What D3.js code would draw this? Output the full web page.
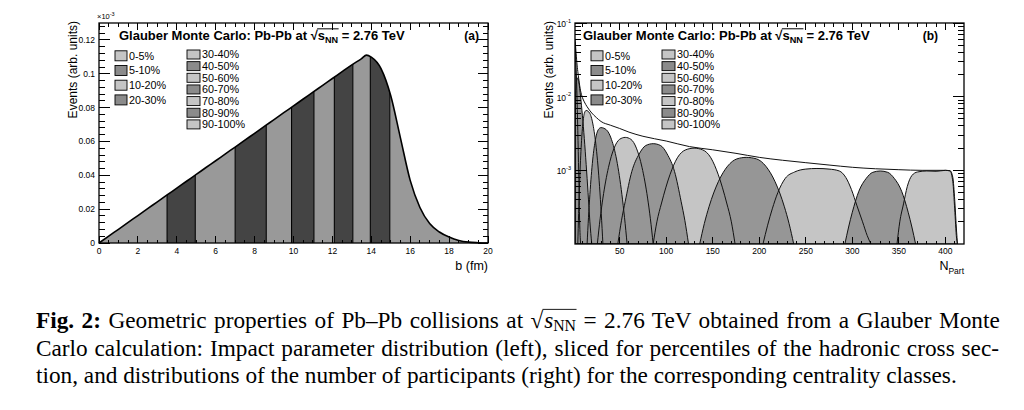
<!DOCTYPE html>
<html><head><meta charset="utf-8">
<script src="https://cdn.jsdelivr.net/npm/d3@7/dist/d3.min.js"></script>
<style>html,body{margin:0;padding:0;background:#fff;} svg{display:block;}</style>
</head><body>
<svg id="fig" width="1024" height="410"></svg>
<script>
// ---------------- DATA ----------------
const centralityClasses = ["0-5%","5-10%","10-20%","20-30%","30-40%","40-50%","50-60%","60-70%","70-80%","80-90%","90-100%"];
// impact-parameter slice edges (fm)
const bClassEdges = [0, 3.5, 4.95, 7.0, 8.6, 9.9, 11.05, 12.1, 13.05, 13.95, 14.95, 20];
// impact-parameter distribution
const bValues = [0,0.5,1,1.5,2,2.5,3,3.5,4,4.5,5,5.5,6,6.5,7,7.5,8,8.5,9,9.5,10,10.5,11,11.5,12,12.5,13,13.5,13.75,14,14.5,15,15.5,16,16.5,17,17.5,18,18.5,19,19.5,20];
const bEvents = [0,0.0041,0.0081,0.0122,0.0162,0.0203,0.0243,0.0284,0.0324,0.0365,0.0405,0.0446,0.0486,0.0527,0.0567,0.0608,0.0648,0.0689,0.0729,0.077,0.081,0.0851,0.0891,0.0932,0.0972,0.1013,0.1053,0.109,0.111,0.1098,0.103,0.087,0.062,0.037,0.021,0.0115,0.0065,0.0035,0.0015,0.0005,0.00015,0];
const bTicks = [0,2,4,6,8,10,12,14,16,18,20];
const eventsTicks = [0,0.02,0.04,0.06,0.08,0.1,0.12];
const eventsTickLabels = ["0","0.02","0.04","0.06","0.08","0.1","0.12"];
const npartTicks = [50,100,150,200,250,300,350,400];
const logTicks = [1e-1,1e-2,1e-3];
const logTickExponents = ["-1","-2","-3"];
// N_part distributions per centrality class: [Npart, events]
const npart_0_5   = [[348,1e-4],[351,0.0002],[355,0.00035],[359,0.0006],[364,0.00085],[370,0.00095],[380,0.00098],[390,0.00097],[400,0.001],[405,0.00098],[408,0.0007],[410,0.0003],[412,0.00012],[413,1e-4]];
const npart_5_10  = [[292,1e-4],[296,0.00017],[300,0.00027],[307,0.00052],[315,0.00078],[322,0.00094],[330,0.00098],[338,0.00094],[345,0.00078],[353,0.00052],[360,0.00027],[364,0.00017],[368,1e-4]];
const npart_10_20 = [[204,1e-4],[209,0.00018],[214,0.0003],[220,0.0005],[228,0.00078],[238,0.00095],[250,0.00104],[262,0.00106],[275,0.00104],[286,0.00098],[293,0.0008],[299,0.00055],[305,0.00033],[311,0.0002],[316,0.00013],[320,1e-4]];
const npart_20_30 = [[136,1e-4],[141,0.00019],[146,0.00032],[156,0.0007],[166,0.00114],[176,0.00143],[186,0.0015],[197,0.00143],[207,0.00114],[217,0.0007],[227,0.00032],[232,0.00019],[237,1e-4]];
const npart_30_40 = [[86,1e-4],[90,0.0002],[95,0.00036],[104,0.00087],[112,0.00148],[121,0.0019],[130,0.002],[139,0.0019],[148,0.00148],[156,0.00087],[165,0.00036],[170,0.0002],[174,1e-4]];
const npart_40_50 = [[48,1e-4],[52,0.00021],[56,0.00038],[63,0.00096],[71,0.00167],[78,0.00217],[86,0.0023],[94,0.00217],[101,0.00167],[109,0.00096],[116,0.00038],[120,0.00021],[124,1e-4]];
const npart_50_60 = [[26,1e-4],[29,0.00022],[32,0.00042],[38,0.0011],[44,0.002],[50,0.00264],[56,0.0028],[62,0.00264],[68,0.002],[74,0.0011],[80,0.00042],[83,0.00022],[86,1e-4]];
const npart_60_70 = [[15,1e-4],[16.5,0.00023],[18,0.00047],[21,0.00138],[24,0.00263],[27,0.00356],[30,0.0038],[35.6,0.00356],[41.2,0.00263],[46.8,0.00138],[52.4,0.00047],[55.2,0.00023],[58,1e-4]];
const npart_70_80 = [[5,1e-4],[5.9,0.00026],[6.8,0.0006],[8.6,0.00203],[10.4,0.00426],[12.2,0.00603],[14,0.0065],[17.6,0.00603],[21.2,0.00426],[24.8,0.00203],[28.4,0.0006],[30.2,0.00026],[32,1e-4]];
const npart_80_90 = [[2,0.004],[3,0.012],[4,0.017],[5,0.018],[6,0.016],[7,0.013],[8,0.01],[10,0.0055],[12,0.0027],[14,0.0012],[16,0.0005],[18,0.0002],[20,1e-4]];
const npart_90_100 = [[2,0.055],[3,0.03],[4,0.012],[5,0.0035],[6,0.0009],[7,0.0002],[8,1e-4]];
const npartByClass = [npart_0_5,npart_5_10,npart_10_20,npart_20_30,npart_30_40,npart_40_50,npart_50_60,npart_60_70,npart_70_80,npart_80_90,npart_90_100];
const npartTotal = [[2,0.06],[3,0.042],[4,0.029],[5,0.022],[6,0.0175],[8,0.012],[10,0.0097],[12,0.0085],[15,0.0073],[20,0.006],[25,0.0052],[30,0.0046],[40,0.0041],[50,0.0037],[60,0.0033],[75,0.0029],[100,0.0025],[125,0.0021],[150,0.0019],[175,0.0017],[200,0.0015],[225,0.00137],[250,0.00127],[275,0.00118],[300,0.0011],[325,0.00105],[350,0.00102],[375,0.001],[400,0.001],[405,0.00099],[408,0.0008],[410,0.0004],[412,0.00015],[413,0.0001]];
const captionLine2 = "Carlo calculation: Impact parameter distribution (left), sliced for percentiles of the hadronic cross sec-";
const captionLine3 = "tion, and distributions of the number of participants (right) for the corresponding centrality classes.";

// ---------------- STYLE ----------------
const SANS = "'Liberation Sans', Arial, Helvetica, sans-serif";
const SERIF = "'Liberation Serif', 'Times New Roman', Times, serif";
const LIGHT = "#c5c5c5", MEDIUM = "#969696";
const B_LIGHT = "#999999", B_DARK = "#444444";
const svg = d3.select("#fig");
const defs = svg.append("defs");

function drawTicks(g, box, x, y, xs, ys) {
  const t = g.append("g").attr("stroke","#000").attr("stroke-width",1).attr("shape-rendering","crispEdges");
  xs.forEach(([vals,len])=>{
    t.selectAll(null).data(vals).join("line").attr("x1",d=>x(d)).attr("x2",d=>x(d)).attr("y1",box.y1).attr("y2",box.y1-len);
    t.selectAll(null).data(vals).join("line").attr("x1",d=>x(d)).attr("x2",d=>x(d)).attr("y1",box.y0).attr("y2",box.y0+len);
  });
  ys.forEach(([vals,len,lenR])=>{
    t.selectAll(null).data(vals).join("line").attr("y1",d=>y(d)).attr("y2",d=>y(d)).attr("x1",box.x0).attr("x2",box.x0+len);
    t.selectAll(null).data(vals).join("line").attr("y1",d=>y(d)).attr("y2",d=>y(d)).attr("x1",box.x1).attr("x2",box.x1-lenR);
  });
  g.append("rect").attr("x",box.x0).attr("y",box.y0).attr("width",box.x1-box.x0).attr("height",box.y1-box.y0)
    .attr("fill","none").attr("stroke","#000").attr("stroke-width",1.3);
}

function plotTitle(g, x0, base, targetW, tag, tagX) {
  const t = g.append("text").attr("x",x0).attr("y",base).attr("font-family",SANS).attr("font-weight","bold").attr("font-size",12).attr("fill","#000");
  const pre = "Glauber Monte Carlo: Pb-Pb at ";
  t.append("tspan").text(pre + "\u221A");
  t.append("tspan").text("s");
  const sub = t.append("tspan").attr("font-size",8.4).attr("dy",2.6).text("NN");
  const post = t.append("tspan").attr("dy",-2.6).text(" = 2.76 TeV");
  const w = t.node().getComputedTextLength();
  const fs = 12*targetW/w;
  t.attr("font-size",fs);
  sub.attr("font-size",fs*0.7).attr("dy",fs*0.22);
  post.attr("dy",-fs*0.22);
  const n = pre.length;
  const e0 = t.node().getExtentOfChar(n), e1 = t.node().getExtentOfChar(n+3);
  g.append("line").attr("x1",e0.x+e0.width-0.6).attr("x2",e1.x+e1.width+0.5)
    .attr("y1",base-fs*0.86).attr("y2",base-fs*0.86).attr("stroke","#000").attr("stroke-width",1);
  g.append("text").attr("x",tagX).attr("y",base).attr("text-anchor","end").attr("font-family",SANS)
    .attr("font-weight","bold").attr("font-size",12).text(tag);
}

function legend(g, c1x, c2x, fillFn) {
  const fs = 10.8;
  centralityClasses.forEach((c,i)=>{
    let bx, cy, bw, bh;
    if (i < 4) { bx = c1x; cy = 55.8 + i*14.7; bw = 12; bh = 10; }
    else { bx = c2x; cy = 54.5 + (i-4)*11.65; bw = 13; bh = 9; }
    g.append("rect").attr("x",bx).attr("y",cy-bh/2).attr("width",bw).attr("height",bh)
      .attr("fill",fillFn(i)).attr("stroke","#000").attr("stroke-width",0.9);
    g.append("text").attr("x",bx+bw+2).attr("y",cy+fs*0.36).attr("font-family",SANS).attr("font-size",fs).text(c);
  });
}

function yTitle(g, x, yTop) {
  g.append("text").attr("transform",`translate(${x},${yTop}) rotate(-90)`).attr("text-anchor","end")
    .attr("font-family",SANS).attr("font-size",12).text("Events (arb. units)");
}

// ---------------- PANEL (a) ----------------
const pa = {x0:99, x1:488, y0:23, y1:243};
const xb = d3.scaleLinear().domain([0,20]).range([pa.x0,pa.x1]);
const yb = d3.scaleLinear().domain([0,0.13]).range([pa.y1,pa.y0]);
const ga = svg.append("g");
const bData = bValues.map((b,i)=>[b,bEvents[i]]);
const areaB = d3.area().x(d=>xb(d[0])).y0(yb(0)).y1(d=>yb(d[1])).curve(d3.curveMonotoneX);
defs.append("clipPath").attr("id","clipB").append("path").attr("d",areaB(bData));
const slices = ga.append("g").attr("clip-path","url(#clipB)");
slices.selectAll("rect").data(d3.range(centralityClasses.length)).join("rect")
  .attr("x",i=>xb(bClassEdges[i])).attr("width",i=>xb(bClassEdges[i+1])-xb(bClassEdges[i]))
  .attr("y",pa.y0).attr("height",pa.y1-pa.y0).attr("fill",i=>i%2===0?B_LIGHT:B_DARK);
slices.selectAll("line").data(bClassEdges.slice(1,-1)).join("line")
  .attr("x1",d=>xb(d)).attr("x2",d=>xb(d)).attr("y1",pa.y0).attr("y2",pa.y1)
  .attr("stroke","#000").attr("stroke-width",1.1);
ga.append("path").attr("d",d3.line().x(d=>xb(d[0])).y(d=>yb(d[1])).curve(d3.curveMonotoneX)(bData))
  .attr("fill","none").attr("stroke","#000").attr("stroke-width",1.6);
drawTicks(ga, pa, xb, yb,
  [[d3.range(0,20.001,0.5),3.5],[bTicks,7]],
  [[d3.range(0,0.1301,0.004),5.5,5],[eventsTicks,11,10]]);
ga.append("g").selectAll("text").data(eventsTicks).join("text")
  .attr("x",95).attr("y",d=>yb(d)+3).attr("text-anchor","end").attr("font-family",SANS).attr("font-size",8.5)
  .text((d,i)=>eventsTickLabels[i]);
ga.append("g").selectAll("text").data(bTicks).join("text")
  .attr("x",d=>xb(d)).attr("y",253.5).attr("text-anchor","middle").attr("font-family",SANS).attr("font-size",8.5)
  .text(d=>d);
const mult = ga.append("text").attr("x",97).attr("y",19).attr("font-family",SANS).attr("font-size",7.5);
mult.append("tspan").text("\u00D710");
mult.append("tspan").attr("font-size",5.5).attr("dy",-3).text("-3");
ga.append("text").attr("x",488).attr("y",270).attr("text-anchor","end").attr("font-family",SANS).attr("font-size",12.5).text("b (fm)");
yTitle(ga, 76.5, 21);
plotTitle(ga, 119, 40, 286, "(a)", 479);
legend(ga, 115, 187, i=>i%2===0?LIGHT:"#8b8b8b");

// ---------------- PANEL (b) ----------------
const pb = {x0:575, x1:964, y0:23, y1:244};
const xn = d3.scaleLinear().domain([2,420]).range([pb.x0,pb.x1]);
const yn = d3.scaleLog().domain([1e-4,1e-1]).range([pb.y1,pb.y0]);
const gb = svg.append("g");
defs.append("clipPath").attr("id","clipN").append("rect").attr("x",pb.x0).attr("y",pb.y0).attr("width",pb.x1-pb.x0).attr("height",pb.y1-pb.y0);
const plotN = gb.append("g").attr("clip-path","url(#clipN)");
const areaN = d3.area().x(d=>xn(d[0])).y0(pb.y1).y1(d=>yn(d[1])).curve(d3.curveMonotoneX);
const order = d3.range(npartByClass.length).filter(i=>i%2===0).concat(d3.range(npartByClass.length).filter(i=>i%2===1));
plotN.selectAll("path.fill").data(order).join("path").attr("class","fill")
  .attr("d",i=>areaN(npartByClass[i])).attr("fill",i=>i%2===0?LIGHT:MEDIUM).attr("stroke","none");
plotN.selectAll("path.edge").data(order).join("path").attr("class","edge")
  .attr("d",i=>areaN(npartByClass[i])).attr("fill","none").attr("stroke","#111").attr("stroke-width",1);
plotN.append("path").attr("d",d3.line().x(d=>xn(d[0])).y(d=>yn(d[1])).curve(d3.curveMonotoneX)(npartTotal))
  .attr("fill","none").attr("stroke","#111").attr("stroke-width",1);
const logMinor = [];
[1e-4,1e-3,1e-2].forEach(dec=>{ for (let k=2;k<=9;k++) logMinor.push(dec*k); });
drawTicks(gb, pb, xn, yn,
  [[d3.range(10,420,10),3.5],[npartTicks,7]],
  [[logMinor,6,6],[logTicks,12,11]]);
gb.append("g").selectAll("text").data(npartTicks).join("text")
  .attr("x",d=>xn(d)).attr("y",253.5).attr("text-anchor","middle").attr("font-family",SANS).attr("font-size",8.5)
  .text(d=>d);
logTicks.forEach((v,i)=>{
  const t = gb.append("text").attr("x",571).attr("y",yn(v)+4).attr("text-anchor","end").attr("font-family",SANS).attr("font-size",8.5);
  t.append("tspan").text("10");
  t.append("tspan").attr("font-size",5.5).attr("dy",-4.5).text(logTickExponents[i]);
});
const nt = gb.append("text").attr("x",964).attr("y",270).attr("text-anchor","end").attr("font-family",SANS).attr("font-size",12.5);
nt.append("tspan").text("N");
nt.append("tspan").attr("font-size",8.5).attr("dy",3.5).text("Part");
yTitle(gb, 552.5, 21);
plotTitle(gb, 583, 40, 287, "(b)", 938);
legend(gb, 591, 662, i=>i%2===0?LIGHT:"#8b8b8b");

// ---------------- CAPTION ----------------
const cap = svg.append("g").attr("font-family",SERIF).attr("fill","#000");
const X0 = 36, RIGHT = 999;
const l3 = cap.append("text").attr("x",X0).attr("y",383).attr("font-size",20).text(captionLine3);
const fs = 20*(957-X0)/l3.node().getComputedTextLength();
cap.attr("font-size",fs); l3.attr("font-size",null);
function justify(t, str) {
  const w = t.node().getComputedTextLength();
  const n = (str.match(/ /g)||[]).length;
  t.style("word-spacing",((RIGHT-X0-w)/n)+"px");
}
const pre1 = " Geometric properties of Pb\u2013Pb collisions at ";
const l1 = cap.append("text").attr("x",X0).attr("y",328);
l1.append("tspan").attr("font-weight","bold").text("Fig. 2:");
l1.append("tspan").text(pre1 + "\u221A");
l1.append("tspan").attr("font-style","italic").attr("dx",0.8).text("s");
l1.append("tspan").attr("font-size",fs*0.68).attr("dy",fs*0.12).text("NN");
const post1 = " = 2.76 TeV obtained from a Glauber Monte";
l1.append("tspan").attr("dy",-fs*0.12).text(post1);
const full1 = "Fig. 2:" + pre1 + "\u221AsNN" + post1;
justify(l1, full1);
const ri = ("Fig. 2:" + pre1).length;
const r0 = l1.node().getExtentOfChar(ri), r1 = l1.node().getExtentOfChar(ri+3);
cap.append("line").attr("x1",r0.x+r0.width-0.8).attr("x2",r1.x+r1.width+0.5)
  .attr("y1",328-fs*0.8).attr("y2",328-fs*0.8).attr("stroke","#000").attr("stroke-width",0.9);
const l2 = cap.append("text").attr("x",X0).attr("y",356).text(captionLine2);
justify(l2, captionLine2);
</script>
</body></html>
